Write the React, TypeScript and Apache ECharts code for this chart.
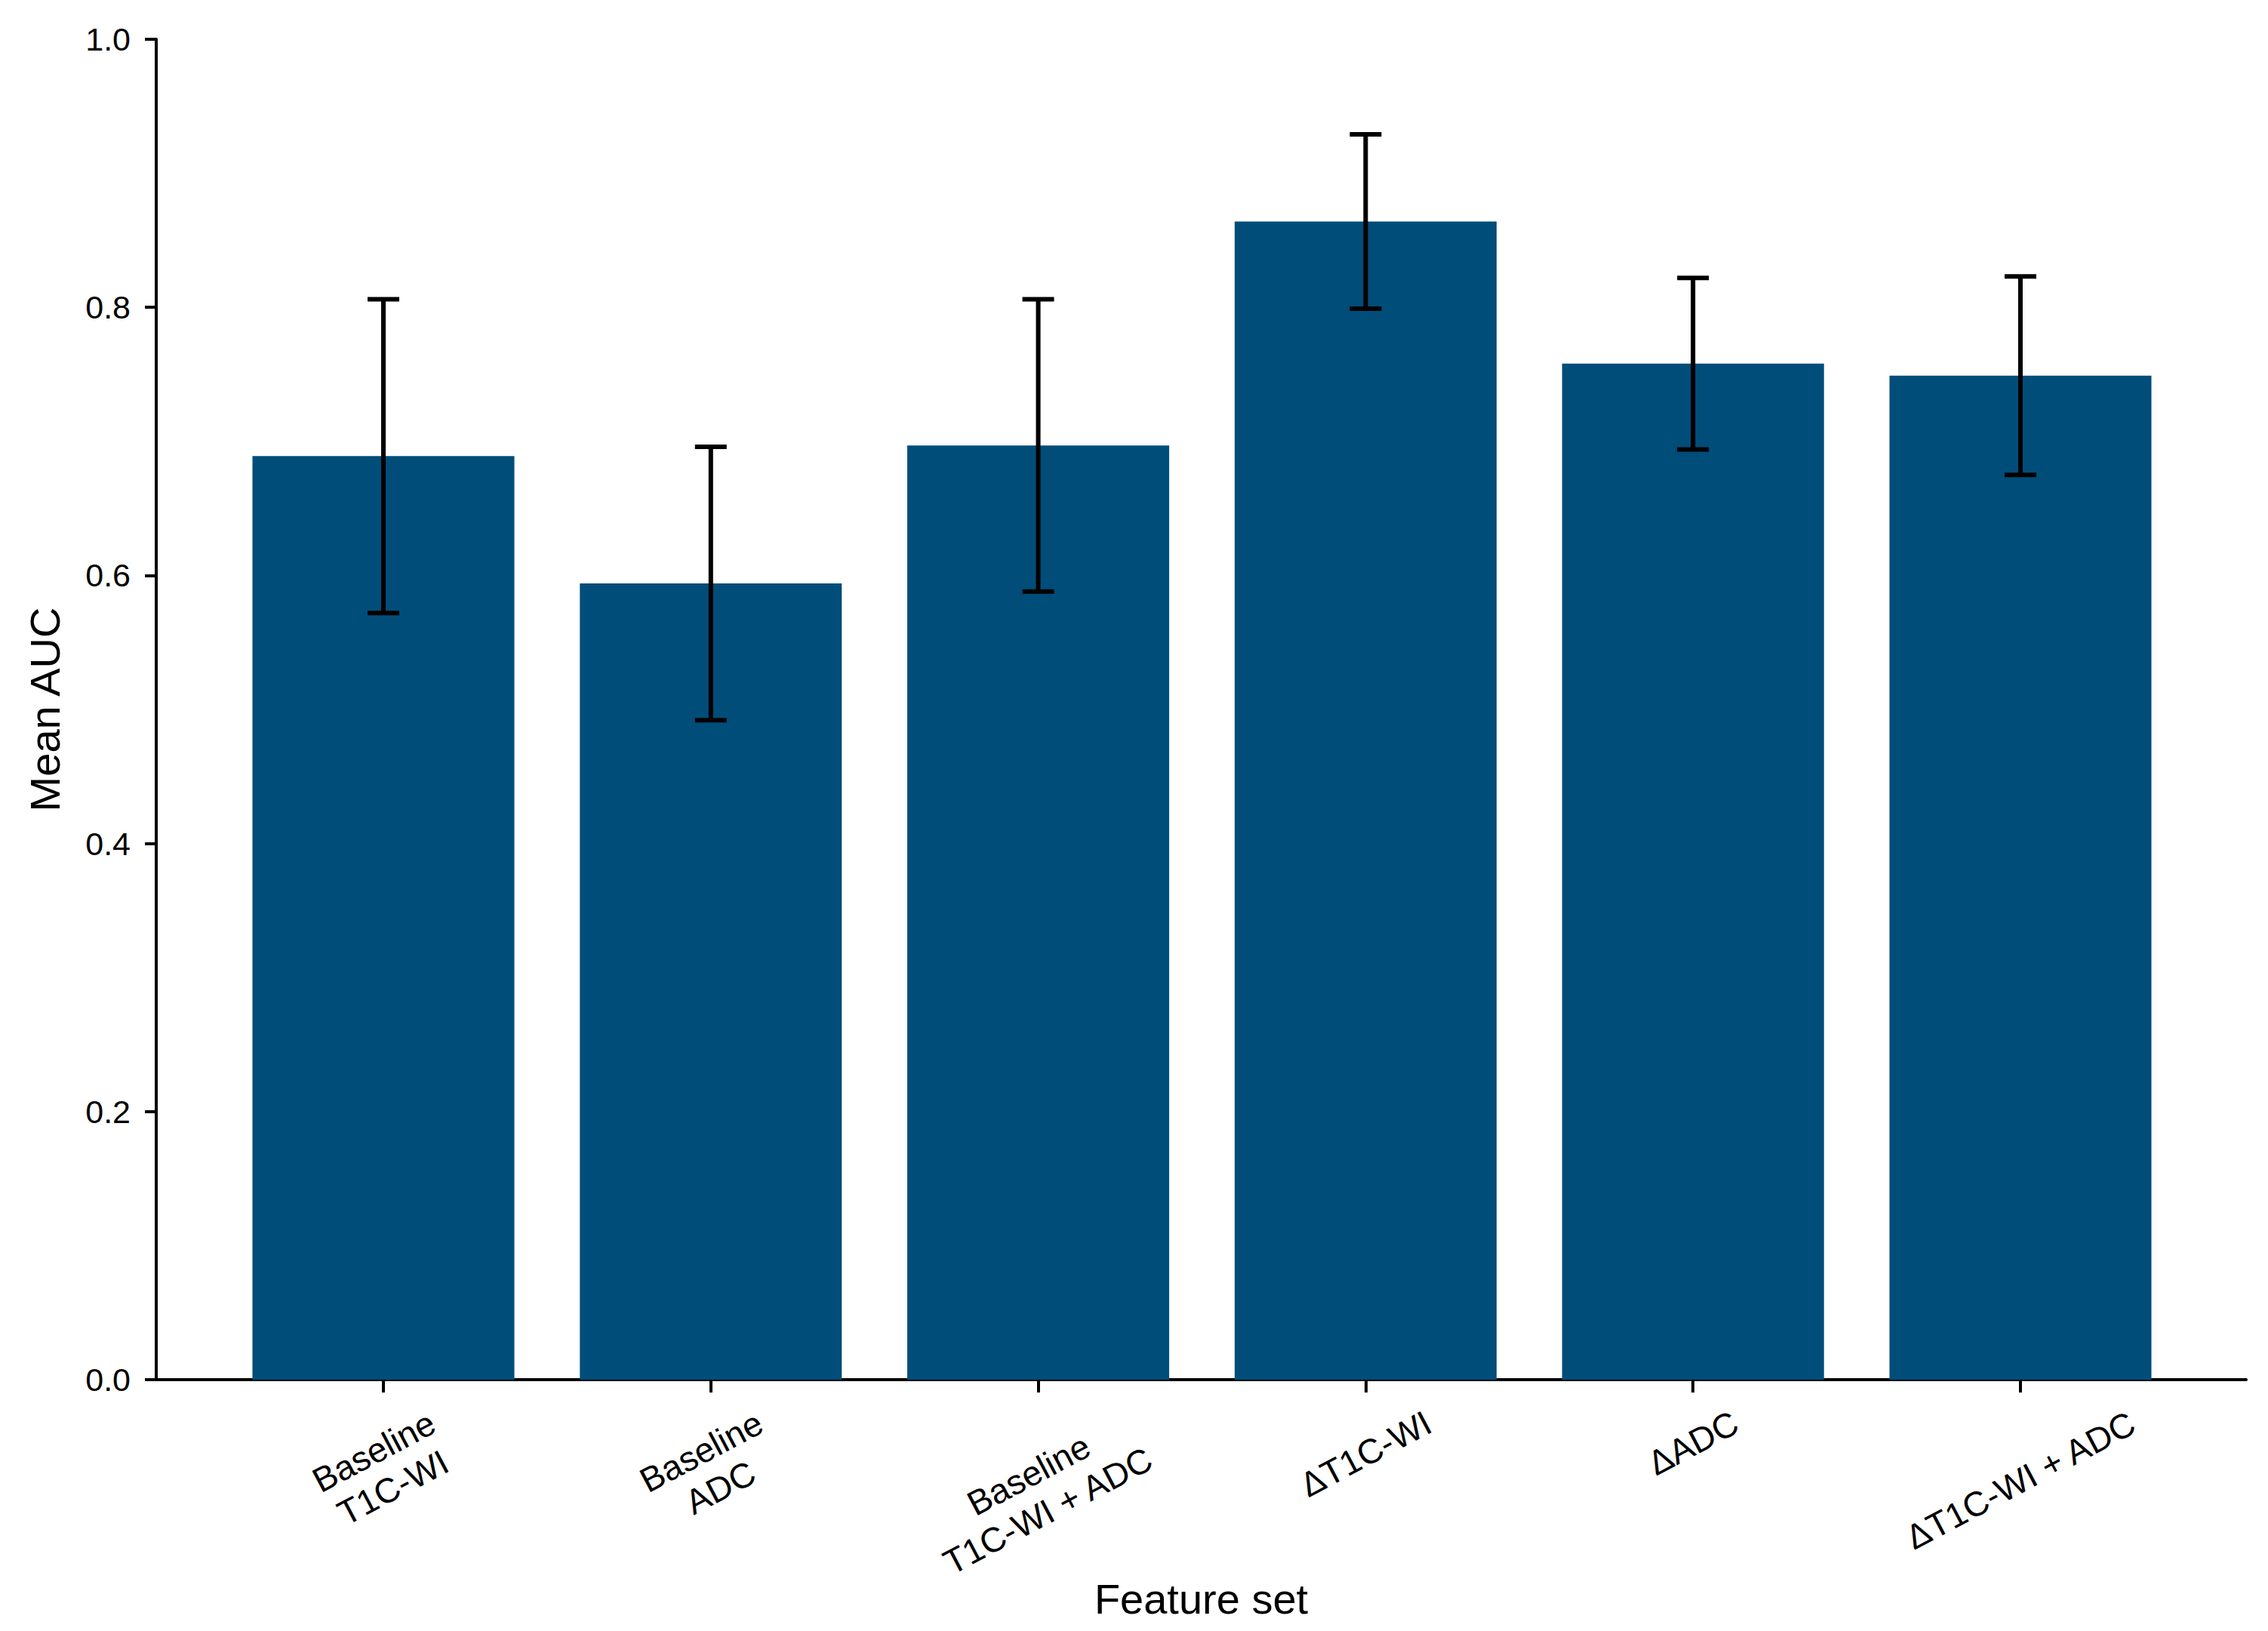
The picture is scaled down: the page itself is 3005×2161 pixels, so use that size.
import React, { useEffect, useRef } from "react";
import * as echarts from "echarts";

// values
const categories = [
  "Baseline\nT1C-WI",
  "Baseline\nADC",
  "Baseline\nT1C-WI + ADC",
  "ΔT1C-WI",
  "ΔADC",
  "ΔT1C-WI + ADC",
];
const meanAuc = [0.689, 0.594, 0.697, 0.864, 0.758, 0.749];
const aucSd = [0.117, 0.102, 0.109, 0.065, 0.064, 0.074];

const FONT = '"Liberation Sans", Arial, Helvetica, sans-serif';
const BAR_COLOR = "#014d7a";
const LABEL_SIZE = 46;
const LABEL_LINE = 54;
const ROTATE = 28;

// width of the widest line of a label, for centring rotated labels like matplotlib does
const measureWidth = (text: string, size: number) => {
  const ctx = document.createElement("canvas").getContext("2d");
  if (!ctx) return 0;
  ctx.font = `${size}px ${FONT}`;
  return Math.max(...text.split("\n").map((l) => ctx.measureText(l).width));
};

const App: React.FC = () => {
  const chartRef = useRef<HTMLDivElement | null>(null);

  useEffect(() => {
    document.body.style.margin = "0";
    if (!chartRef.current) return;
    const chart = echarts.init(chartRef.current, undefined, { renderer: "svg" });

    const theta = (ROTATE * Math.PI) / 180;
    const sin = Math.sin(theta);
    const cos = Math.cos(theta);
    // shift every rotated label so that its bounding box hangs from the same line
    // (text is top-aligned; top padding moves it down, right padding moves it left)
    const xData = categories.map((c) => {
      const w = measureWidth(c, LABEL_SIZE);
      const h = c.split("\n").length * LABEL_LINE;
      const d = (w * sin + h * cos) / 2;
      return {
        value: c,
        textStyle: {
          align: "center",
          verticalAlign: "top",
          padding: [Math.max(0, d * cos - h / 2), 2 * d * sin, 0, 0],
        },
      };
    });

    const errData = meanAuc.map((m, i) => [i, m - aucSd[i], m + aucSd[i]]);

    const gridTop = 52;
    const gridHeight = 1776;
    const band = 433.8;

    const option: echarts.EChartsOption = {
      animation: false,
      backgroundColor: "#ffffff",
      textStyle: { fontFamily: FONT, color: "#000" },
      grid: [
        { left: 207, top: gridTop, width: 2769, height: gridHeight, outerBoundsMode: "none" } as any,
        { left: 508 - band / 2, top: gridTop, width: band * 6, height: gridHeight, outerBoundsMode: "none" } as any,
      ],
      xAxis: [
        {
          type: "value",
          gridIndex: 0,
          min: 0,
          max: 1,
          name: "Feature set",
          nameLocation: "middle",
          nameGap: 262,
          nameMoveOverlap: false,
          nameTextStyle: { fontSize: 56, color: "#000", fontFamily: FONT },
          axisLine: { show: true, onZero: false, lineStyle: { color: "#000", width: 4 } },
          axisTick: { show: false },
          axisLabel: { show: false },
          splitLine: { show: false },
        } as any,
        {
          type: "category",
          gridIndex: 1,
          data: xData,
          axisLine: { show: false },
          axisTick: {
            show: true,
            alignWithLabel: true,
            length: 17,
            lineStyle: { color: "#000", width: 4 },
          },
          axisLabel: {
            interval: 0,
            rotate: ROTATE,
            margin: 30,
            fontSize: LABEL_SIZE,
            lineHeight: LABEL_LINE,
            color: "#000",
            fontFamily: FONT,
          },
          splitLine: { show: false },
        } as any,
      ],
      yAxis: [
        {
          type: "value",
          gridIndex: 0,
          min: 0,
          max: 1,
          interval: 0.2,
          name: "Mean AUC",
          nameLocation: "middle",
          nameGap: 120,
          nameMoveOverlap: false,
          nameTextStyle: { fontSize: 56, color: "#000", fontFamily: FONT },
          axisLine: { show: true, lineStyle: { color: "#000", width: 4 } },
          axisTick: { show: true, length: 15, lineStyle: { color: "#000", width: 4 } },
          axisLabel: {
            fontSize: 43,
            margin: 34,
            color: "#000",
            fontFamily: FONT,
            formatter: (v: number) => v.toFixed(1),
          },
          splitLine: { show: false },
        } as any,
        {
          type: "value",
          gridIndex: 1,
          min: 0,
          max: 1,
          show: false,
          splitLine: { show: false },
        },
      ],
      series: [
        {
          name: "Mean AUC",
          type: "bar",
          xAxisIndex: 1,
          yAxisIndex: 1,
          barWidth: "80%",
          itemStyle: { color: BAR_COLOR },
          data: meanAuc,
          z: 2,
        },
        {
          name: "SD",
          type: "custom",
          xAxisIndex: 1,
          yAxisIndex: 1,
          z: 5,
          data: errData,
          renderItem: (_params: any, api: any) => {
            const lo = api.coord([api.value(0), api.value(1)]);
            const hi = api.coord([api.value(0), api.value(2)]);
            const cap = 21;
            const style = { stroke: "#000", lineWidth: 6 };
            return {
              type: "group",
              children: [
                { type: "line", shape: { x1: hi[0], y1: hi[1], x2: lo[0], y2: lo[1] }, style },
                { type: "line", shape: { x1: hi[0] - cap, y1: hi[1], x2: hi[0] + cap, y2: hi[1] }, style },
                { type: "line", shape: { x1: lo[0] - cap, y1: lo[1], x2: lo[0] + cap, y2: lo[1] }, style },
              ],
            };
          },
        },
      ],
    };

    chart.setOption(option);

    return () => {
      chart.dispose();
    };
  }, []);

  return <div ref={chartRef} style={{ width: "3005px", height: "2161px" }} />;
};

export default App;
